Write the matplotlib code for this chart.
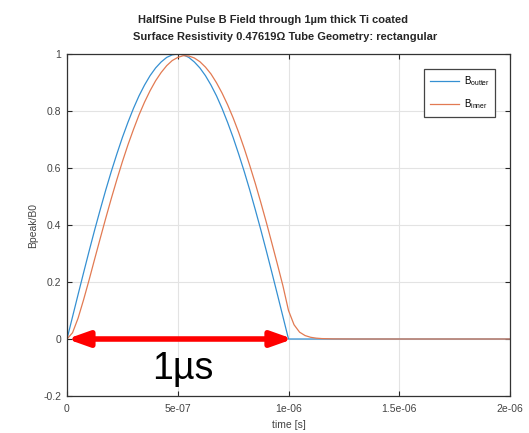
import matplotlib
matplotlib.use("Agg")
import matplotlib.pyplot as plt

plt.rcParams["font.family"] = ["Liberation Sans", "DejaVu Sans"]
plt.rcParams["mathtext.fontset"] = "custom"
plt.rcParams["mathtext.rm"] = "Liberation Sans"

# time samples of the pulse [s]
t_pulse = [0.000e-6, 0.025e-6, 0.050e-6, 0.075e-6, 0.100e-6, 0.125e-6, 0.150e-6,
           0.175e-6, 0.200e-6, 0.225e-6, 0.250e-6, 0.275e-6, 0.300e-6, 0.325e-6,
           0.350e-6, 0.375e-6, 0.400e-6, 0.425e-6, 0.450e-6, 0.475e-6, 0.500e-6,
           0.525e-6, 0.550e-6, 0.575e-6, 0.600e-6, 0.625e-6, 0.650e-6, 0.675e-6,
           0.700e-6, 0.725e-6, 0.750e-6, 0.775e-6, 0.800e-6, 0.825e-6, 0.850e-6,
           0.875e-6, 0.900e-6, 0.925e-6, 0.950e-6, 0.975e-6, 1.000e-6]
t_tail = [1.025e-6, 1.050e-6, 1.075e-6, 1.100e-6, 1.125e-6, 1.150e-6, 1.200e-6,
          1.300e-6, 1.500e-6, 2.000e-6]

b_outer_pulse = [0.000, 0.078, 0.156, 0.233, 0.309, 0.383, 0.454, 0.523, 0.588,
                 0.649, 0.707, 0.760, 0.809, 0.853, 0.891, 0.924, 0.951, 0.972,
                 0.988, 0.997, 1.000, 0.997, 0.988, 0.972, 0.951, 0.924, 0.891,
                 0.853, 0.809, 0.760, 0.707, 0.649, 0.588, 0.523, 0.454, 0.383,
                 0.309, 0.233, 0.156, 0.078, 0.000]
b_outer_tail = [0.0, 0.0, 0.0, 0.0, 0.0, 0.0, 0.0, 0.0, 0.0, 0.0]

b_inner_pulse = [0.000, 0.022, 0.073, 0.138, 0.208, 0.281, 0.353, 0.424, 0.493,
                 0.559, 0.622, 0.681, 0.735, 0.786, 0.831, 0.871, 0.906, 0.935,
                 0.959, 0.977, 0.988, 0.994, 0.993, 0.986, 0.973, 0.954, 0.930,
                 0.899, 0.863, 0.822, 0.776, 0.725, 0.669, 0.609, 0.546, 0.479,
                 0.409, 0.336, 0.262, 0.186, 0.100]
b_inner_tail = [0.050, 0.024, 0.012, 0.006, 0.003, 0.0015, 0.0004, 0.0, 0.0, 0.0]

x_ticks = [0, 5e-7, 1e-6, 1.5e-6, 2e-6]
x_tick_labels = ["0", "5e-07", "1e-06", "1.5e-06", "2e-06"]
y_ticks = [-0.2, 0, 0.2, 0.4, 0.6, 0.8, 1]
y_tick_labels = ["-0.2", "0", "0.2", "0.4", "0.6", "0.8", "1"]

title_1 = "HalfSine Pulse B Field through 1\u00b5m thick Ti coated"
title_2 = "Surface Resistivity 0.47619\u03a9 Tube Geometry: rectangular"

fig = plt.figure(figsize=(5.29, 4.33), dpi=100)
ax = fig.add_axes([67 / 529, 1 - 396 / 433, (510 - 67) / 529, (396 - 54) / 433])

ax.plot(t_pulse + t_tail, b_outer_pulse + b_outer_tail, color="#3590d2", lw=0.9,
        label=r"B$_{\rm outter}$")
ax.plot(t_pulse + t_tail, b_inner_pulse + b_inner_tail, color="#e27a52", lw=0.9,
        label=r"B$_{\rm inner}$")

ax.set_xlim(0, 2e-6)
ax.set_ylim(-0.2, 1)
ax.set_xticks(x_ticks)
ax.set_xticklabels(x_tick_labels)
ax.set_yticks(y_ticks)
ax.set_yticklabels(y_tick_labels)
ax.grid(True, color="#e3e3e3", lw=0.8)
ax.set_axisbelow(True)
ax.tick_params(direction="in", length=3.5, width=0.8, top=True, right=True,
               labelsize=7.5, colors="#262626", labelcolor="#444444")
ax.tick_params(axis="x", pad=6)
ax.tick_params(axis="y", pad=4)
for s in ax.spines.values():
    s.set_color("#333333")
    s.set_linewidth(0.9)

ax.set_xlabel("time [s]", fontsize=7.5, color="#444444", labelpad=4)
ax.set_ylabel("Bpeak/B0", fontsize=7.5, color="#444444", labelpad=4)

leg = ax.legend(loc="upper right", bbox_to_anchor=(0.966, 0.956), fontsize=7,
                fancybox=False, framealpha=1, edgecolor="#444444",
                handlelength=3.0, handletextpad=0.5, labelspacing=0.95,
                borderpad=0.55, borderaxespad=0)
leg.get_frame().set_linewidth(0.9)

ax.annotate("", xy=(1.02e-6, 0), xytext=(0, 0),
            arrowprops=dict(arrowstyle="<|-|>,head_length=0.9,head_width=0.32",
                            color="red", lw=4, mutation_scale=14,
                            shrinkA=0, shrinkB=0), zorder=5)
ax.text(5.21e-7, -0.141, "1\u00b5s", fontsize=27, ha="center", va="baseline")

fig.text(273 / 529, 1 - 20 / 433, title_1, fontsize=8, fontweight="bold",
         ha="center", va="center", color="#262626")
fig.text(285 / 529, 1 - 37 / 433, title_2, fontsize=8, fontweight="bold",
         ha="center", va="center", color="#262626")

fig.savefig("out.png", dpi=100)
